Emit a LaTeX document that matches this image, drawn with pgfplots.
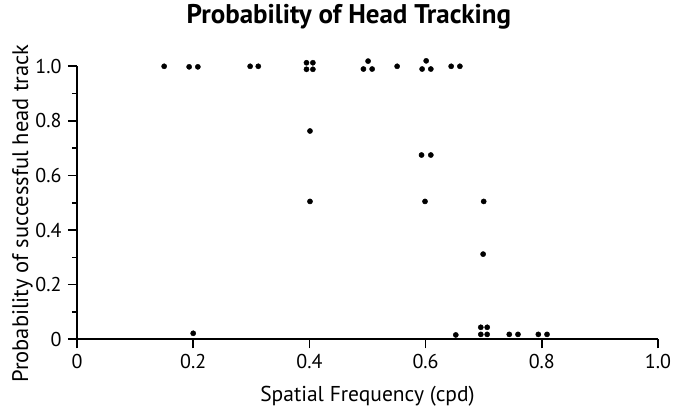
\documentclass[border=0pt]{standalone}
\usepackage{pgfplots}
\pgfplotsset{compat=1.18}
\usepackage{fontspec}
\setmainfont{PT Sans}

% jittered trial outcomes
\pgfplotstableread{
x      y
0.150  1.000
0.193  0.998
0.208  0.998
0.298  1.000
0.312  1.000
0.395  1.013
0.406  1.013
0.395  0.989
0.406  0.989
0.493  0.990
0.501  1.019
0.508  0.990
0.551  1.000
0.594  0.990
0.601  1.020
0.609  0.990
0.644  1.000
0.659  1.000
0.401  0.763
0.593  0.675
0.609  0.675
0.401  0.505
0.599  0.505
0.700  0.505
0.699  0.312
0.200  0.022
0.652  0.016
0.695  0.044
0.706  0.044
0.695  0.018
0.706  0.018
0.744  0.018
0.759  0.018
0.794  0.018
0.809  0.018
}\trials

\begin{document}
\begin{tikzpicture}
\begin{axis}[
  name=ax,
  scale only axis,
  width=581pt, height=273pt,
  xmin=0, xmax=1, ymin=0, ymax=1,
  clip=false,
  axis x line=bottom, axis y line=left,
  axis line style={-, line width=1.8pt},
  tick align=outside,
  xtick={0,0.2,0.4,0.6,0.8,1},
  xticklabels={0,0.2,0.4,0.6,0.8,1.0},
  ytick={0,0.2,0.4,0.6,0.8,1},
  yticklabels={0,0.2,0.4,0.6,0.8,1.0},
  minor ytick={0.1,0.3,0.5,0.7,0.9},
  major tick length=9pt, minor tick length=5pt,
  tick style={line width=1.6pt, black},
  /pgf/number format/assume math mode=true,
  ticklabel style={font=\fontsize{20}{22}\selectfont},
  yticklabel style={xshift=-3pt},
  xticklabel style={yshift=-2pt},
  title={Probability of Head Tracking},
  title style={font=\fontsize{27}{30}\selectfont\bfseries,
    at={(axis description cs:0.468,1.135)}, anchor=base},
  xlabel={Spatial Frequency (cpd)},
  xlabel style={font=\fontsize{21.5}{24}\selectfont,
    at={(axis description cs:0.5,-0.229)}, anchor=base},
  ylabel={Probability of successful head track},
  ylabel style={font=\fontsize{22.5}{24}\selectfont,
    at={(axis description cs:-0.0843,0.46)}, anchor=base},
]
\addplot[only marks, mark=*, mark size=2.6pt, black] table {\trials};
\end{axis}
% page = the reference frame (675 x 409) around the axis box
\pgfresetboundingbox
\path (ax.south west) ++(-77pt,-69.7pt) rectangle ++(675pt,409pt);
\end{tikzpicture}
\end{document}
